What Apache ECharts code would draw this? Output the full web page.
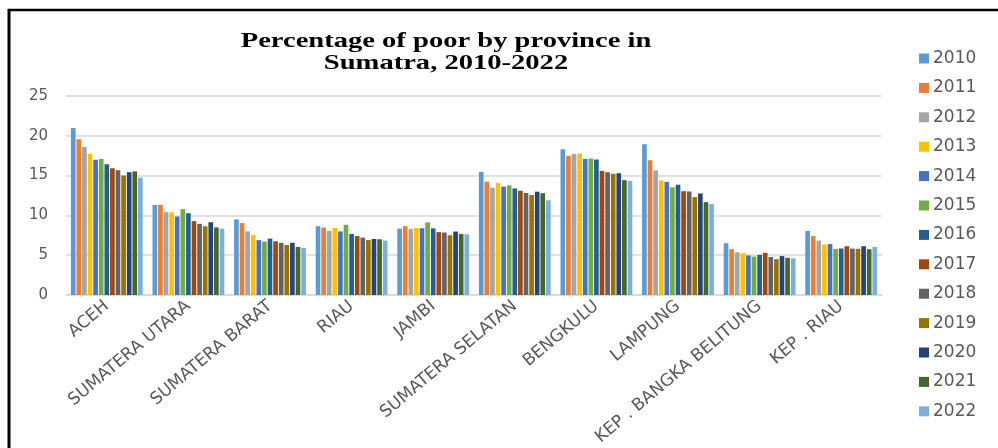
<!DOCTYPE html>
<html>
<head>
<meta charset="utf-8">
<script src="https://cdn.jsdelivr.net/npm/echarts@6/dist/echarts.min.js"></script>
<style>html,body{margin:0;padding:0;background:#fff}#c{width:998px;height:448px}</style>
</head>
<body>
<div id="c"></div>
<script>
var provinces = ['ACEH','SUMATERA UTARA','SUMATERA BARAT','RIAU','JAMBI','SUMATERA SELATAN','BENGKULU','LAMPUNG','KEP . BANGKA BELITUNG','KEP . RIAU'];
var years = ['2010','2011','2012','2013','2014','2015','2016','2017','2018','2019','2020','2021','2022'];
var yTicks = [0, 5, 10, 15, 20, 25];
var colors = ['#5B9BD5','#ED7D31','#A5A5A5','#FFC000','#4472C4','#70AD47','#255E91','#9E480E','#636363','#997300','#264478','#43682B','#7CAFDD'];
// values per year, in province order
var v2010 = [20.98, 11.31, 9.50, 8.65, 8.34, 15.47, 18.30, 18.94, 6.51, 8.05];
var v2011 = [19.57, 11.33, 9.04, 8.47, 8.65, 14.24, 17.50, 16.93, 5.75, 7.40];
var v2012 = [18.58, 10.41, 8.00, 8.05, 8.28, 13.48, 17.70, 15.65, 5.37, 6.83];
var v2013 = [17.72, 10.39, 7.56, 8.42, 8.41, 14.06, 17.75, 14.39, 5.25, 6.35];
var v2014 = [16.98, 9.85, 6.89, 7.99, 8.39, 13.62, 17.09, 14.21, 4.97, 6.40];
var v2015 = [17.08, 10.79, 6.71, 8.82, 9.12, 13.77, 17.16, 13.53, 4.83, 5.78];
var v2016 = [16.43, 10.27, 7.09, 7.67, 8.37, 13.39, 17.03, 13.86, 5.04, 5.84];
var v2017 = [15.92, 9.28, 6.75, 7.41, 7.90, 13.10, 15.59, 13.04, 5.30, 6.13];
var v2018 = [15.68, 8.94, 6.55, 7.21, 7.85, 12.82, 15.43, 13.01, 4.77, 5.83];
var v2019 = [15.01, 8.63, 6.29, 6.90, 7.51, 12.56, 15.23, 12.30, 4.50, 5.80];
var v2020 = [15.43, 9.14, 6.56, 7.04, 7.97, 12.98, 15.30, 12.76, 4.89, 6.13];
var v2021 = [15.53, 8.49, 6.04, 7.00, 7.67, 12.79, 14.43, 11.67, 4.67, 5.75];
var v2022 = [14.75, 8.33, 5.92, 6.84, 7.62, 11.90, 14.34, 11.44, 4.61, 6.03];
var values = [v2010, v2011, v2012, v2013, v2014, v2015, v2016, v2017, v2018, v2019, v2020, v2021, v2022];
var titleText = 'Percentage of poor by province in\nSumatra, 2010-2022';

var series = years.map(function (y, i) {
  return {
    name: y, type: 'bar', data: values[i],
    itemStyle: { color: colors[i] },
    barGap: '20%', barCategoryGap: '12%'
  };
});

var chart = echarts.init(document.getElementById('c'), null, { renderer: 'canvas' });
chart.setOption({
  animation: false,
  backgroundColor: '#fff',
  color: colors,
  legend: {
    orient: 'vertical', left: 914, top: 45,
    itemWidth: 10, itemHeight: 10, itemGap: 12.4,
    icon: 'rect',
    textStyle: { fontFamily: 'DejaVu Sans', fontSize: 17, lineHeight: 16, color: '#595959', padding: [0, 0, 0, -1] },
    data: years
  },
  grid: { left: 66, right: 116, top: 96, bottom: 153, containLabel: false, outerBoundsMode: 'none' },
  xAxis: {
    type: 'category', data: provinces,
    axisLine: { lineStyle: { color: '#d9d9d9', width: 1.5 } },
    axisTick: { show: false },
    axisLabel: { rotate: 40, interval: 0, margin: 9, fontFamily: 'DejaVu Sans', fontSize: 17, color: '#595959' }
  },
  yAxis: {
    type: 'value', min: yTicks[0], max: yTicks[yTicks.length - 1], interval: 5,
    axisLine: { show: false }, axisTick: { show: false },
    splitLine: { lineStyle: { color: '#d9d9d9', width: 1.5 } },
    axisLabel: { margin: 18, fontFamily: 'DejaVu Sans', fontSize: 15, color: '#595959' }
  },
  graphic: [
    { type: 'line', shape: { x1: 9, y1: 9, x2: 9, y2: 448 }, style: { stroke: '#000', lineWidth: 3 } },
    { type: 'line', shape: { x1: 8, y1: 10, x2: 998, y2: 10 }, style: { stroke: '#000', lineWidth: 2.5 } },
    { type: 'text', x: 446, y: 31, scaleX: 1.36,
      style: { text: titleText, textAlign: 'center', fill: '#000', font: 'bold 21px "Liberation Serif"', lineHeight: 22 } }
  ],
  series: series
});
</script>
</body>
</html>
